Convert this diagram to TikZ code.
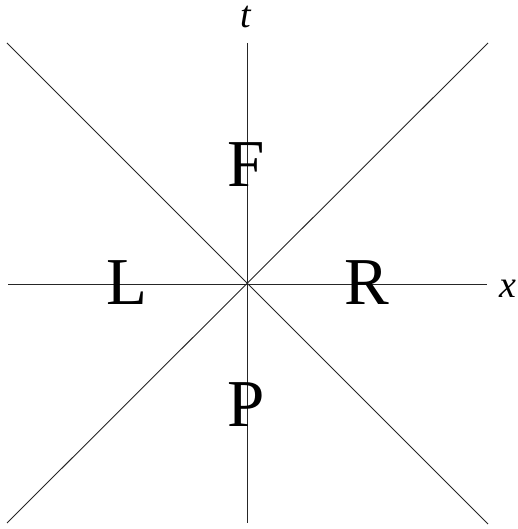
\documentclass[tikz,border=0pt]{standalone}
\usepackage{fontspec}
\setmainfont{Liberation Serif}
\begin{document}
\begin{tikzpicture}[x=1pt,y=1pt,
  axis/.style={line width=0.9pt,black!85},
  region/.style={inner sep=0pt,anchor=base,font=\fontsize{67}{67}\selectfont},
  axlabel/.style={inner sep=0pt,anchor=base,text height=20pt,text depth=0pt,font=\fontsize{38}{38}\selectfont\itshape}]
\useasboundingbox (0,0) rectangle (517,529);
\coordinate (hl) at (8,245);
\coordinate (hr) at (487,245);
\coordinate (vt) at (247,486);
\coordinate (vb) at (247,6);
\coordinate (d1a) at (7,486);
\coordinate (d1b) at (488,5);
\coordinate (d2a) at (7,6);
\coordinate (d2b) at (488,486);
\draw[axis] (hl) -- (hr);
\draw[axis] (vt) -- (vb);
\draw[axis] (d1a) -- (d1b);
\draw[axis] (d2a) -- (d2b);
\node[region] (F) at (246,342) {F};
\node[region] (L) at (127,224) {L};
\node[region] (R) at (367,224) {R};
\node[region] (P) at (246,102) {P};
\node[axlabel] (t) at (246,501) {t};
\node[axlabel] (x) at (508,231) {x};
\end{tikzpicture}
\end{document}
